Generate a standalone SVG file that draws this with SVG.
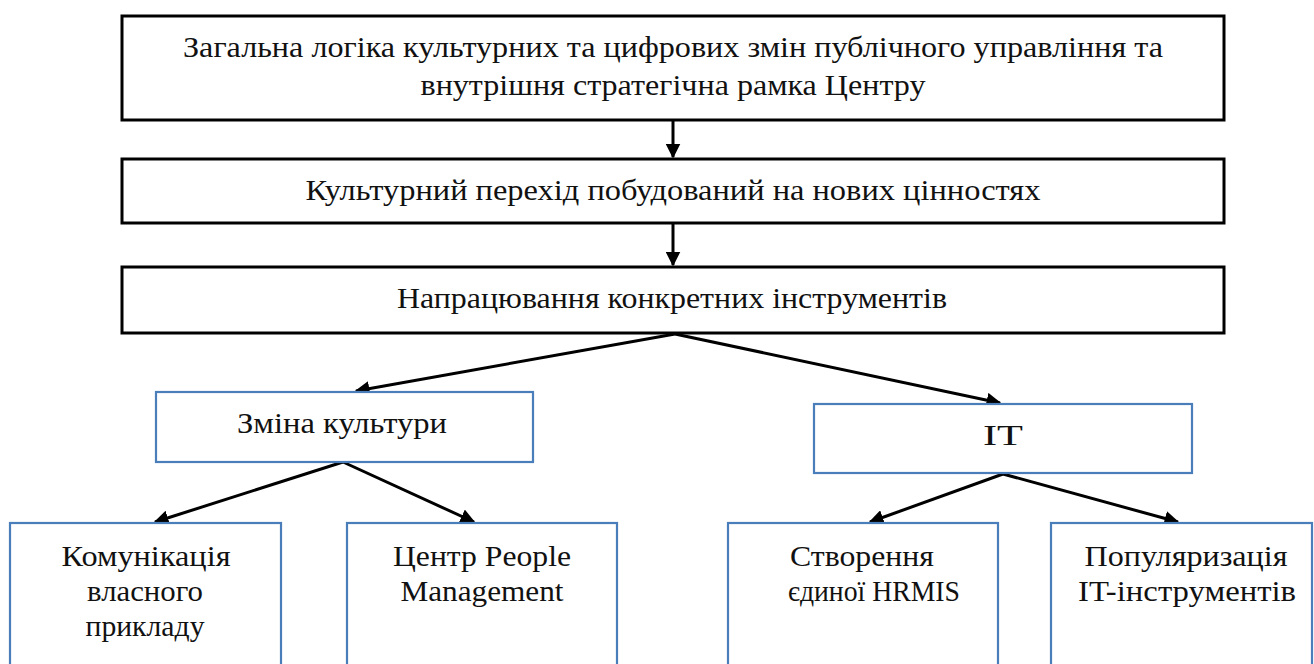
<svg xmlns="http://www.w3.org/2000/svg" width="1314" height="664" viewBox="0 0 1314 664">
  <style>
    .main { fill: #ffffff; stroke: #000000; stroke-width: 3; }
    .sub { fill: #ffffff; stroke: #4a7ebb; stroke-width: 2.2; }
    .label { font-family: "Liberation Serif", "DejaVu Serif", "Times New Roman", Times, serif; font-size: 29px; fill: #111111; text-anchor: middle; }
    .edge { fill: none; stroke: #000000; stroke-width: 3; marker-end: url(#arrow); }
  </style>
  <defs>
    <marker id="arrow" viewBox="0 0 10 10" refX="9" refY="5" markerWidth="5" markerHeight="5" orient="auto" markerUnits="strokeWidth">
      <path d="M0,0 L10,5 L0,10 Z" fill="#000000"/>
    </marker>
  </defs>

  <rect width="1314" height="664" fill="#ffffff"/>

  <g id="connectors">
    <path class="edge" d="M673,121 L673,157"/>
    <path class="edge" d="M673,224 L673,265"/>
    <path class="edge" d="M675,334 L356,391"/>
    <path class="edge" d="M675,334 L1000,403"/>
    <path class="edge" d="M343,462 L155,522"/>
    <path class="edge" d="M343,462 L474,522"/>
    <path class="edge" d="M1003,474 L870,522"/>
    <path class="edge" d="M1003,474 L1178,522"/>
  </g>

  <g id="node-general">
    <rect class="main" x="122" y="16" width="1102" height="104"/>
    <text class="label" x="673" y="57" textLength="980" lengthAdjust="spacingAndGlyphs">Загальна логіка культурних та цифрових змін публічного управління та</text>
    <text class="label" x="673" y="95" textLength="505" lengthAdjust="spacingAndGlyphs">внутрішня стратегічна рамка Центру</text>
  </g>

  <g id="node-transition">
    <rect class="main" x="122" y="159" width="1102" height="64"/>
    <text class="label" x="673" y="200" textLength="735" lengthAdjust="spacingAndGlyphs">Культурний перехід побудований на нових цінностях</text>
  </g>

  <g id="node-tools">
    <rect class="main" x="122" y="267" width="1102" height="66"/>
    <text class="label" x="672" y="308" textLength="550" lengthAdjust="spacingAndGlyphs">Напрацювання конкретних інструментів</text>
  </g>

  <g id="node-culture">
    <rect class="sub" x="156" y="392" width="377" height="70"/>
    <text class="label" x="342" y="433" textLength="210" lengthAdjust="spacingAndGlyphs">Зміна культури</text>
  </g>

  <g id="node-it">
    <rect class="sub" x="814" y="404" width="378" height="69"/>
    <text class="label" x="1003" y="445" textLength="40" lengthAdjust="spacingAndGlyphs">IT</text>
  </g>

  <g id="node-example">
    <rect class="sub" x="10" y="523" width="271" height="180"/>
    <text class="label" x="146" y="566" textLength="169" lengthAdjust="spacingAndGlyphs">Комунікація</text>
    <text class="label" x="145" y="601" textLength="116" lengthAdjust="spacingAndGlyphs">власного</text>
    <text class="label" x="145" y="636" textLength="119" lengthAdjust="spacingAndGlyphs">прикладу</text>
  </g>

  <g id="node-people">
    <rect class="sub" x="347" y="523" width="270" height="180"/>
    <text class="label" x="482" y="566" textLength="178" lengthAdjust="spacingAndGlyphs">Центр People</text>
    <text class="label" x="482" y="601" textLength="163" lengthAdjust="spacingAndGlyphs">Management</text>
  </g>

  <g id="node-hrmis">
    <rect class="sub" x="728" y="523" width="270" height="180"/>
    <text class="label" x="862" y="566" textLength="144" lengthAdjust="spacingAndGlyphs">Створення</text>
    <text class="label" x="874" y="601" textLength="172" lengthAdjust="spacingAndGlyphs">єдиної HRMIS</text>
  </g>

  <g id="node-popular">
    <rect class="sub" x="1051" y="523" width="261" height="180"/>
    <text class="label" x="1186" y="566" textLength="203" lengthAdjust="spacingAndGlyphs">Популяризація</text>
    <text class="label" x="1187" y="601" textLength="218" lengthAdjust="spacingAndGlyphs">IT-інструментів</text>
  </g>
</svg>
